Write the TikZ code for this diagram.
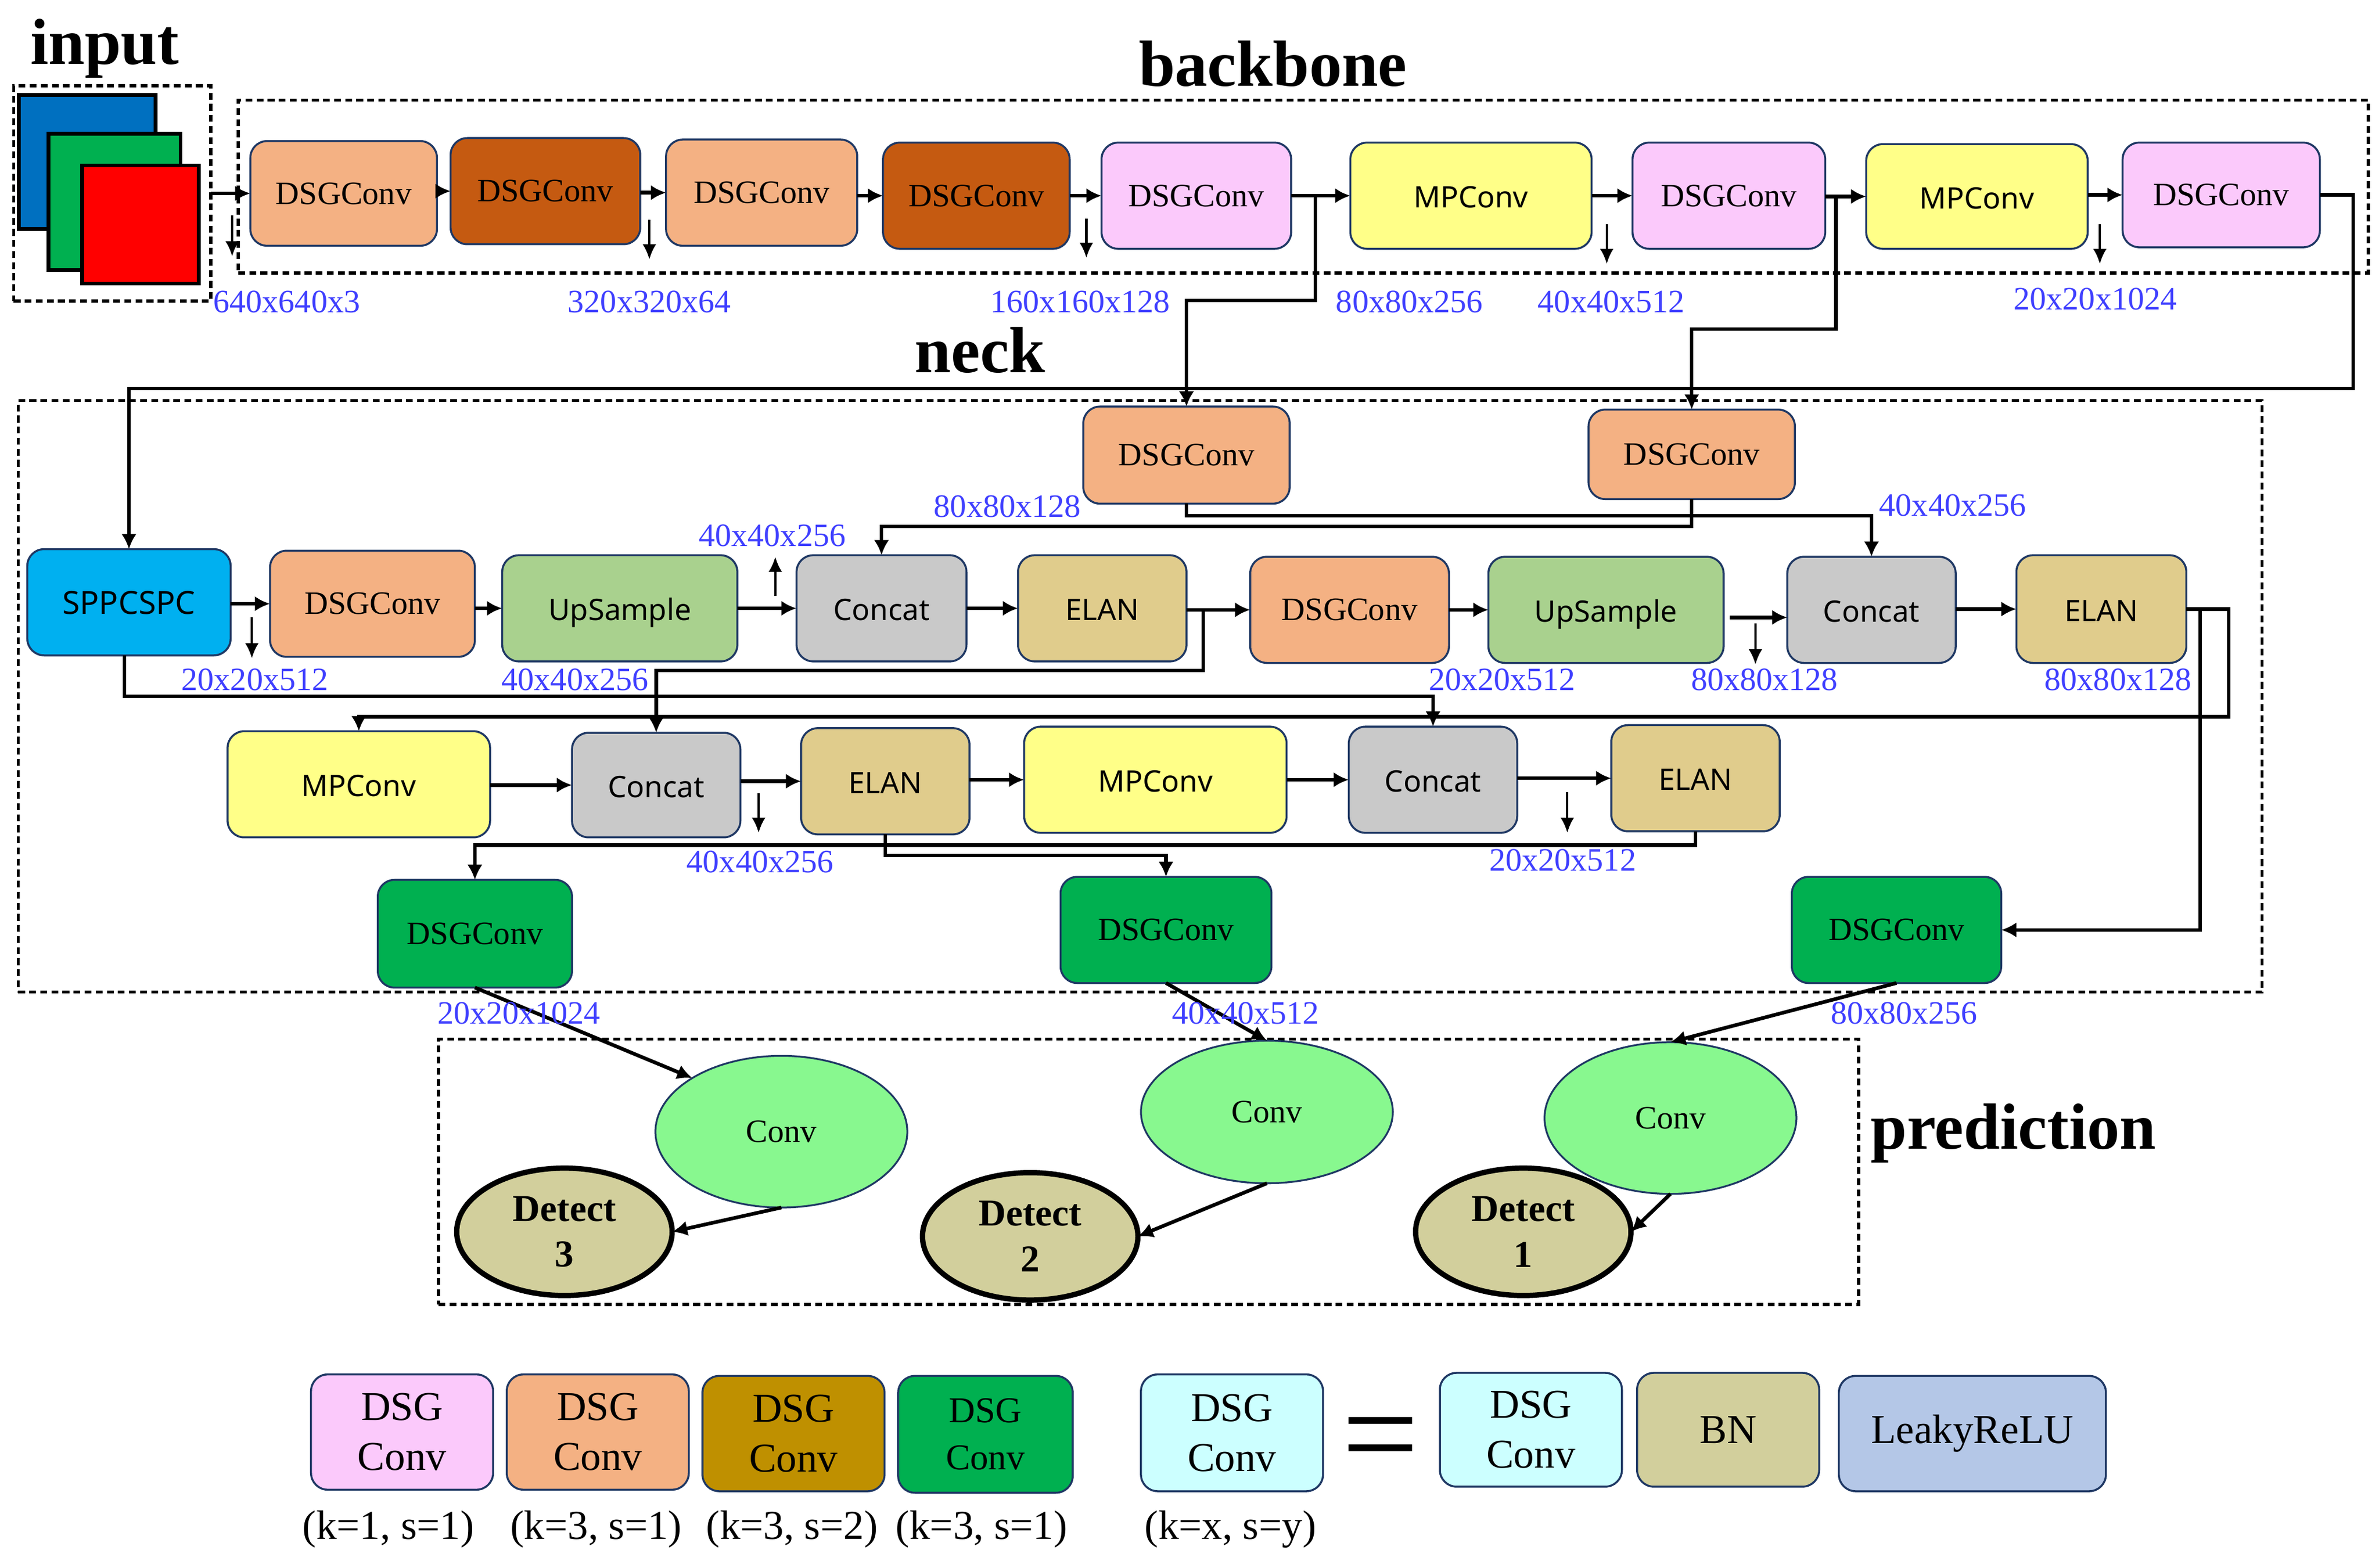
\documentclass[tikz,border=0pt]{standalone}
\usepackage{fontspec}
\setmainfont{Liberation Serif}
\setsansfont{Noto Sans}
\usetikzlibrary{shapes.geometric,arrows.meta}
\definecolor{boxline}{HTML}{1F3864}
\definecolor{dsgorange}{HTML}{F4B183}
\definecolor{dsgbrown}{HTML}{C55A11}
\definecolor{dsgpink}{HTML}{FBC9FB}
\definecolor{dsggreen}{HTML}{00B050}
\definecolor{dsggold}{HTML}{BF9000}
\definecolor{dsgcyan}{HTML}{CCFFFF}
\definecolor{mpyellow}{HTML}{FFFF88}
\definecolor{sppblue}{HTML}{00B0F0}
\definecolor{upgreen}{HTML}{A9D18E}
\definecolor{catgray}{HTML}{C9C9C9}
\definecolor{elantan}{HTML}{E0CC8C}
\definecolor{convgreen}{HTML}{88F88F}
\definecolor{bnkhaki}{HTML}{D2CF9C}
\definecolor{leakyblue}{HTML}{B4C7E7}
\definecolor{sizeblue}{HTML}{3F3FFF}
\tikzset{
  block/.style={draw=boxline,line width=1.3,rounded corners=11,inner sep=0,outer sep=0,align=center},
  serifblock/.style={block,font=\fontsize{21.5}{24}\selectfont},
  sansblock/.style={block,text height=20,text depth=4,font=\sffamily\fontsize{19.5}{24}\selectfont},
  legendblock/.style={block,font=\fontsize{27}{33}\selectfont},
  frame/.style={draw,dash pattern=on 4.5 off 2.8,line width=2,inner sep=0,outer sep=0},
  title/.style={font=\bfseries\fontsize{43}{48}\selectfont,inner sep=0},
  sizelabel/.style={text=sizeblue,font=\fontsize{21.5}{24}\selectfont,inner sep=0},
  note/.style={font=\fontsize{27}{30}\selectfont,inner sep=0},
  conn/.style={-{Latex[length=10,width=10]},line width=2.4},
  dimarrow/.style={-{Latex[length=10,width=9]},line width=1.5},
  convnode/.style={ellipse,draw=boxline,line width=1.2,fill=convgreen,minimum width=166,minimum height=100,inner sep=0,outer sep=0,font=\fontsize{21.5}{24}\selectfont},
  detectnode/.style={ellipse,draw,line width=3.5,fill=bnkhaki,minimum width=142,minimum height=84,inner sep=0,outer sep=0,align=center,font=\bfseries\fontsize{25}{30}\selectfont},
}
\begin{document}
\begin{tikzpicture}[x=1pt,y=-1pt]
\useasboundingbox (0,0) rectangle (1568,1033.6);
% dashed frames
\node[frame,minimum width=130,minimum height=142] (inputframe) at (74,127.5) {};
\node[frame,minimum width=1404,minimum height=114] (backboneframe) at (859,123) {};
\node[frame,minimum width=1479,minimum height=390] (neckframe) at (751.5,459) {};
\node[frame,minimum width=936,minimum height=175] (predframe) at (757,772.5) {};
% input layers
\draw[line width=2.5,fill={rgb,255:red,0;green,112;blue,192}] (12.5,62.5) rectangle (102.5,151);
\draw[line width=2.5,fill=dsggreen] (32,88) rectangle (119,178);
\draw[line width=2.5,fill=red] (54,109) rectangle (131,187);
% titles
\node[title] (inputtitle) at (69,32) {input};
\node[title] (backbonetitle) at (839,42) {backbone};
\node[title] (necktitle) at (646,231) {neck};
\node[title] (predtitle) at (1327,747) {prediction};
% blocks, by left, top, right, bottom
\foreach \name/\st/\col/\xa/\ya/\xb/\yb/\txt in {
  bb1/serifblock/dsgorange/165/93/288/162/DSGConv,
  bb2/serifblock/dsgbrown/297/91/422/161/DSGConv,
  bb3/serifblock/dsgorange/439/92/565/162/DSGConv,
  bb4/serifblock/dsgbrown/582/94/705/164/DSGConv,
  bb5/serifblock/dsgpink/726/94/851/164/DSGConv,
  bb6/sansblock/mpyellow/890/94/1049/164/MPConv,
  bb7/serifblock/dsgpink/1076/94/1203/164/DSGConv,
  bb8/sansblock/mpyellow/1230/95/1376/164/MPConv,
  bb9/serifblock/dsgpink/1399/94/1529/163/DSGConv,
  top1/serifblock/dsgorange/714/268/850/332/DSGConv,
  top2/serifblock/dsgorange/1047/270/1183/329/DSGConv,
  spp/sansblock/sppblue/18/362/152/432/{\fontsize{21}{24}\selectfont SPPCSPC},
  up1dsg/serifblock/dsgorange/178/363/313/433/DSGConv,
  up1/sansblock/upgreen/331/366/486/436/UpSample,
  cat1/sansblock/catgray/525/366/637/436/Concat,
  elan1/sansblock/elantan/671/366/782/436/ELAN,
  up2dsg/serifblock/dsgorange/824/367/955/437/DSGConv,
  up2/sansblock/upgreen/981/367/1136/437/UpSample,
  cat2/sansblock/catgray/1178/367/1289/437/Concat,
  elan2/sansblock/elantan/1329/366/1441/437/ELAN,
  mp1/sansblock/mpyellow/150/482/323/552/MPConv,
  cat3/sansblock/catgray/377/483/488/552/Concat,
  elan3/sansblock/elantan/528/480/639/550/ELAN,
  mp2/sansblock/mpyellow/675/479/848/549/MPConv,
  cat4/sansblock/catgray/889/479/1000/549/Concat,
  elan4/sansblock/elantan/1062/478/1173/548/ELAN,
  out1/serifblock/dsggreen/249/580/377/651/DSGConv,
  out2/serifblock/dsggreen/699/578/838/648/DSGConv,
  out3/serifblock/dsggreen/1181/578/1319/648/DSGConv,
  key1/legendblock/dsgpink/205/906/325/982/DSG\\Conv,
  key2/legendblock/dsgorange/334/906/454/982/DSG\\Conv,
  key3/legendblock/dsggold/463/907/583/983/DSG\\Conv,
  key5/legendblock/dsgcyan/752/906/872/983/DSG\\Conv,
  key6/legendblock/dsgcyan/949/905/1069/980/DSG\\Conv,
  key7/legendblock/bnkhaki/1079/905/1199/980/BN,
  key8/legendblock/leakyblue/1212/907/1388/983/LeakyReLU}{
  \node[\st,fill=\col,minimum width=\xb-\xa,minimum height=\yb-\ya] (\name) at ({(\xa+\xb)/2},{(\ya+\yb)/2}) {\txt};
}
\node[legendblock,fill=dsggreen,minimum width=115,minimum height=77,font=\fontsize{24}{31}\selectfont] (key4) at (649.5,945.5) {DSG\\Conv};
% prediction heads
\node[convnode] (conv3) at (515,746) {Conv};
\node[convnode,minimum height=94] (conv2) at (835,733) {Conv};
\node[convnode] (conv1) at (1101,737) {Conv};
\node[detectnode] (det3) at (372,812) {Detect\\3};
\node[detectnode] (det2) at (679,815) {Detect\\2};
\node[detectnode] (det1) at (1004,812) {Detect\\1};
% chains
\draw[conn] (inputframe.east)--(bb1.west);
\foreach \a/\b in {bb1/bb2,bb2/bb3,bb3/bb4,bb4/bb5,bb5/bb6,bb6/bb7,bb7/bb8,bb8/bb9,spp/up1dsg,up1dsg/up1,up1/cat1,cat1/elan1,elan1/up2dsg,up2dsg/up2,cat2/elan2,mp1/cat3,cat3/elan3,elan3/mp2,mp2/cat4,cat4/elan4}{
  \draw[conn] (\b.west-|\a.east)--(\b.west);
}
\coordinate (up2out) at (1140,407);
\draw[conn] (up2out)--(up2out-|cat2.west);
% long links
\coordinate (bbtap1) at (867,129);
\coordinate (bbtap2) at (1210,129);
\coordinate (elantap1) at (793,401);
\coordinate (elantap2) at (1450,401);
\coordinate (spptap) at (82,432);
\draw[conn] (bbtap1)--++(0,69)-|(top1.north);
\draw[conn] (bbtap2)--++(0,88)-|(top2.north);
\draw[conn] (bb9.east)-|(1551,256)-|(spp.north);
\draw[conn] (top1.south)--++(0,8)-|(cat2.north);
\draw[conn] (top2.south)--++(0,18)-|(cat1.north);
\draw[conn] (elantap1)--++(0,41)-|(cat3.north);
\draw[conn] (spptap)--++(0,27)-|(cat4.north);
\draw[conn] (elan2.east)-|(1469,472.5)-|(mp1.north);
\draw[conn] (elantap2)|-(out3.east);
\draw[conn] (elan4.south)--++(0,9)-|(out1.north);
\draw[conn] (elan3.south)--++(0,14)-|(out2.north);
\draw[conn] (out1.south)--(conv3.north west);
\draw[conn] (out2.south)--(conv2.north);
\draw[conn] (out3.south)--(conv1.north);
\draw[conn] (conv3.south)--(det3.east);
\draw[conn] (conv2.south)--(det2.east);
\draw[conn] (conv1.south)--(det1.east);
% feature size markers
\foreach \n/\x/\ya/\yb in {1/153/142/169,2/428/145/171,3/716/144/170,4/1059/148/174,5/1384/148/174,6/166/407/434,7/511/393/367,8/500/523/549,9/1157/411/438,10/1033/522/549}{
  \coordinate (mark\n a) at (\x,\ya);
  \coordinate (mark\n b) at (\x,\yb);
  \draw[dimarrow] (mark\n a)--(mark\n b);
}
\foreach \n/\x/\y/\txt in {1/189/199/640x640x3,2/428/199/320x320x64,3/712/199/160x160x128,4/929/199/80x80x256,5/1062/199/40x40x512,6/1381/197/20x20x1024,7/664/334/80x80x128,8/509/353/40x40x256,9/1287/333/40x40x256,10/168/448/20x20x512,11/379/448/40x40x256,12/990/448/20x20x512,13/1163/448/80x80x128,14/1396/448/80x80x128,15/501/568/40x40x256,16/1030/567/20x20x512,17/342/668/20x20x1024,18/821/668/40x40x512,19/1255/668/80x80x256}{
  \node[sizelabel] (size\n) at (\x,\y) {\txt};
}
% legend
\node[font=\fontsize{90}{90}\selectfont,inner sep=0] (equals) at (910,955) {=};
\foreach \n/\x/\txt in {1/256/{(k=1, s=1)},2/393/{(k=3, s=1)},3/522/{(k=3, s=2)},4/647/{(k=3, s=1)},5/811/{(k=x, s=y)}}{
  \node[note] (note\n) at (\x,1008) {\txt};
}
\end{tikzpicture}
\end{document}
